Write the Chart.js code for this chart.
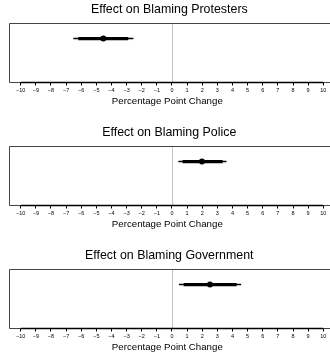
<!DOCTYPE html>
<html>
<head>
<meta charset="utf-8">
<script src="https://cdn.jsdelivr.net/npm/chart.js@4/dist/chart.umd.min.js"></script>
<style>
  html, body { margin: 0; padding: 0; background: #fff; overflow: hidden; width: 330px; height: 358px; }
  canvas { position: absolute; left: 0; }
</style>
</head>
<body>
<canvas id="panel0" width="330" height="112" style="top:0px"></canvas>
<canvas id="panel1" width="330" height="112" style="top:123px"></canvas>
<canvas id="panel2" width="330" height="112" style="top:246px"></canvas>
<script>
// one row per panel
var panelTitles = ['Effect on Blaming Protesters', 'Effect on Blaming Police', 'Effect on Blaming Government'];
var estimates = [-4.54, 1.98, 2.51];
var ci90Low = [-6.19, 0.70, 0.77];
var ci90High = [-2.89, 3.35, 4.27];
var ci95Low = [-6.52, 0.42, 0.46];
var ci95High = [-2.55, 3.60, 4.57];
var tickValues = [-10, -9, -8, -7, -6, -5, -4, -3, -2, -1, 0, 1, 2, 3, 4, 5, 6, 7, 8, 9, 10];
var rowPosition = 0.75;

var fontFamily = '"Liberation Sans", Arial, Helvetica, sans-serif';

// box round the plot (its right side runs off the page), axis line under the ticks, dotted line at zero
var framePlugin = {
  id: 'frame',
  beforeDatasetsDraw: function (chart) {
    var ctx = chart.ctx;
    var a = chart.chartArea;
    var x = chart.scales.x;
    var left = Math.round(a.left) + 0.5;
    var top = Math.round(a.top) + 0.5;
    var bottom = Math.round(a.bottom) + 0.5;
    ctx.save();
    ctx.strokeStyle = '#444';
    ctx.lineWidth = 1;
    ctx.beginPath();
    ctx.moveTo(chart.width, top);
    ctx.lineTo(left, top);
    ctx.lineTo(left, bottom);
    ctx.lineTo(chart.width, bottom);
    ctx.stroke();

    var zero = Math.round(x.getPixelForValue(0)) + 0.5;
    ctx.strokeStyle = '#888';
    ctx.setLineDash([1, 1]);
    ctx.beginPath();
    ctx.moveTo(zero, top + 1);
    ctx.lineTo(zero, bottom);
    ctx.stroke();

    ctx.setLineDash([]);
    ctx.strokeStyle = '#000';
    ctx.lineWidth = 1.5;
    ctx.beginPath();
    ctx.moveTo(x.getPixelForValue(tickValues[0]), bottom);
    ctx.lineTo(x.getPixelForValue(tickValues[tickValues.length - 1]), bottom);
    ctx.stroke();
    ctx.restore();
  }
};

function drawPanel(i) {
  var ctx = document.getElementById('panel' + i).getContext('2d');
  return new Chart(ctx, {
    type: 'scatter',
    data: {
      datasets: [
        {
          data: [{ x: ci95Low[i], y: rowPosition }, { x: ci95High[i], y: rowPosition }],
          showLine: true, borderColor: '#000', borderWidth: 1.5, pointRadius: 0
        },
        {
          data: [{ x: ci90Low[i], y: rowPosition }, { x: ci90High[i], y: rowPosition }],
          showLine: true, borderColor: '#000', borderWidth: 3.2, pointRadius: 0
        },
        {
          data: [{ x: estimates[i], y: rowPosition }],
          pointRadius: 3, backgroundColor: '#000', borderColor: '#000', borderWidth: 0
        }
      ]
    },
    options: {
      responsive: false,
      animation: false,
      events: [],
      layout: { padding: { left: 8.6, right: 0, top: 0, bottom: 6.2 } },
      plugins: {
        legend: { display: false },
        tooltip: { enabled: false },
        title: {
          display: true,
          text: panelTitles[i],
          color: '#000',
          font: { family: fontFamily, size: 12.4, weight: 'normal' },
          padding: { top: 2, bottom: 6 }
        }
      },
      scales: {
        x: {
          type: 'linear',
          min: -10.8,
          max: 10.18,
          afterBuildTicks: function (scale) {
            scale.ticks = tickValues.map(function (v) { return { value: v }; });
          },
          border: { display: false },
          grid: { drawOnChartArea: false, drawTicks: true, tickLength: 4, tickColor: '#000', lineWidth: 1 },
          ticks: {
            autoSkip: false,
            maxRotation: 0,
            padding: 2,
            color: '#000',
            font: { family: fontFamily, size: 5.5 },
            callback: function (v) { return v < 0 ? '\u2212' + Math.abs(v) : String(v); }
          },
          title: {
            display: true,
            text: 'Percentage Point Change',
            color: '#000',
            font: { family: fontFamily, size: 9.7, lineHeight: 1 },
            padding: { top: 0, bottom: 0 }
          }
        },
        y: { type: 'linear', min: -0.04, max: 1.04, display: false }
      }
    },
    plugins: [framePlugin]
  });
}

drawPanel(0);
drawPanel(1);
drawPanel(2);
</script>
</body>
</html>
